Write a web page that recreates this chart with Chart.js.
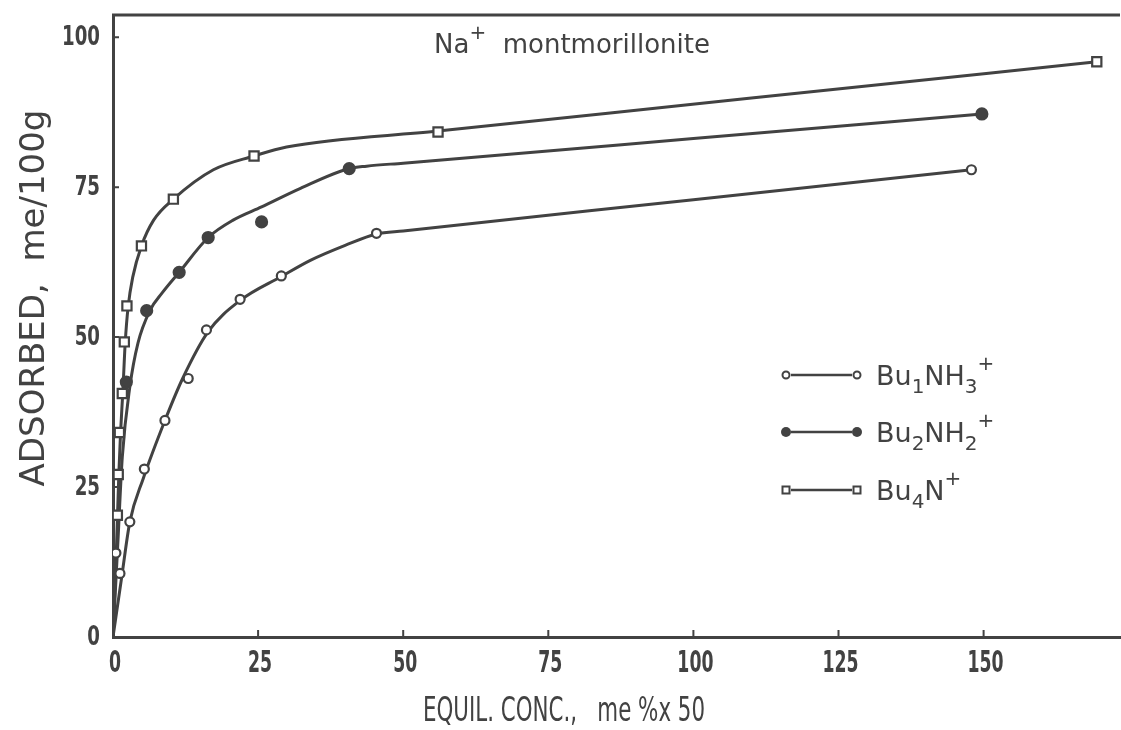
<!DOCTYPE html>
<html>
<head>
<meta charset="utf-8">
<script src="https://cdn.jsdelivr.net/npm/chart.js@4/dist/chart.umd.min.js"></script>
<style>
  html, body { margin: 0; padding: 0; background: #fff; }
  #chart { display: block; }
</style>
</head>
<body>
<canvas id="chart" width="1121" height="730"></canvas>
<script>
// measured points (me%x50 , me/100g)
var bu1_x = [0.5, 1.2, 2.9, 5.4, 8.95, 12.96, 16.1, 21.9, 29.0, 45.4, 147.9];
var bu1_y = [14.0, 10.6, 19.2, 28.0, 36.1, 43.1, 51.2, 56.3, 60.2, 67.3, 77.9];

var bu2_x = [2.3, 5.8, 11.4, 16.4, 25.6, 40.7, 149.7];
var bu2_y = [42.5, 54.4, 60.8, 66.6, 69.2, 78.1, 87.2];

var bu4_x = [0.75, 0.9, 1.1, 1.6, 1.95, 2.4, 4.9, 10.4, 24.3, 56.0, 169.5];
var bu4_y = [20.3, 27.1, 34.1, 40.6, 49.2, 55.2, 65.2, 73.0, 80.2, 84.2, 95.9];

// hand drawn fitted curves
var bu1_curve_x = [0, 1.5, 2.9, 5.2, 8.95, 12.0, 16.4, 21.9, 29.0, 34.0, 40.0, 45.4, 50.0, 100.0, 147.9];
var bu1_curve_y = [0, 10.0, 19.2, 26.4, 36.1, 43.1, 50.9, 56.1, 60.1, 62.8, 65.3, 67.2, 67.7, 72.9, 77.9];

var bu2_curve_x = [0, 0.8, 1.6, 2.9, 4.3, 6.4, 8.5, 11.4, 16.4, 20.7, 25.6, 32.3, 40.7, 43.7, 50.0, 100.0, 149.7];
var bu2_curve_y = [0, 15.0, 30.0, 41.7, 49.0, 54.5, 57.4, 60.8, 66.6, 69.5, 71.7, 74.8, 78.1, 78.5, 79.0, 83.1, 87.2];

var bu4_curve_x = [0, 0.6, 1.0, 1.3, 1.7, 2.1, 2.6, 3.4, 4.9, 7.0, 10.4, 17.3, 24.3, 29.9, 56.0, 110.0, 169.5];
var bu4_curve_y = [0, 15.0, 27.0, 34.0, 41.0, 49.0, 55.0, 60.0, 65.2, 69.5, 73.0, 77.9, 80.2, 81.7, 84.35, 89.85, 95.9];

var x_ticks = [0, 25, 50, 75, 100, 125, 150];
var y_ticks = [0, 25, 50, 75, 100];

var ink = '#424242';

function to_points(xs, ys) {
  var pts = [];
  for (let i = 0; i < xs.length; i++) {
    pts.push({x: xs[i], y: ys[i]});
  }
  return pts
}

function curve_set(xs, ys) {
  return {
    type: 'line',
    data: to_points(xs, ys),
    showLine: true,
    borderColor: ink,
    borderWidth: 3,
    pointRadius: 0,
    cubicInterpolationMode: 'monotone',
    fill: false,
    order: 2
  }
}

function marker_set(xs, ys, style, radius, bg) {
  return {
    type: 'scatter',
    data: to_points(xs, ys),
    showLine: false,
    pointStyle: style,
    pointRadius: radius,
    pointBorderWidth: 2.2,
    pointBackgroundColor: bg,
    pointBorderColor: ink,
    order: 1
  }
}

// text with sub/superscripts: parts = [[text, 'n'|'sub'|'sup'], ...]
function draw_rich(ctx, x, y, parts, size) {
  var cx = x;
  for (let i = 0; i < parts.length; i++) {
    var txt = parts[i][0];
    var kind = parts[i][1];
    var fs = kind == 'n' ? size : Math.round(size * 0.75);
    var dy = 0;
    if (kind == 'sub') dy = size * 0.3;
    if (kind == 'sup') dy = -size * 0.55;
    ctx.font = fs + 'px "DejaVu Sans"';
    ctx.fillText(txt, cx, y + dy);
    cx += ctx.measureText(txt).width;
  }
}

// horizontally squeezed text, the scan uses a tall narrow face
function squeezed(ctx, txt, x, y, sx) {
  ctx.save();
  ctx.translate(x, y);
  ctx.scale(sx, 1);
  ctx.fillText(txt, 0, 0);
  ctx.restore();
}

var extras = {
  id: 'extras',
  afterDraw: function(chart) {
    var ctx = chart.ctx;
    var area = chart.chartArea;
    var xs = chart.scales.x;
    var ys = chart.scales.y;
    ctx.save();
    ctx.strokeStyle = ink;
    ctx.fillStyle = ink;

    // top frame line
    ctx.lineWidth = 3;
    ctx.beginPath();
    ctx.moveTo(area.left - 1, area.top);
    ctx.lineTo(area.right, area.top);
    ctx.stroke();

    // small inside tick marks
    ctx.lineWidth = 2;
    ctx.beginPath();
    x_ticks.forEach(function(v) {
      if (v == 0) return;
      var px = xs.getPixelForValue(v);
      ctx.moveTo(px, area.bottom);
      ctx.lineTo(px, area.bottom - 7);
    });
    y_ticks.forEach(function(v) {
      if (v == 0) return;
      var py = ys.getPixelForValue(v);
      ctx.moveTo(area.left, py);
      ctx.lineTo(area.left + 6, py);
    });
    ctx.stroke();

    // tick labels
    ctx.font = 'bold 31px "DejaVu Sans Condensed"';
    ctx.textAlign = 'center';
    ctx.textBaseline = 'top';
    x_ticks.forEach(function(v) {
      squeezed(ctx, String(v), xs.getPixelForValue(v) + 2, area.bottom + 11, 0.62);
    });
    ctx.font = 'bold 27px "DejaVu Sans Condensed"';
    ctx.textAlign = 'right';
    ctx.textBaseline = 'middle';
    y_ticks.forEach(function(v) {
      squeezed(ctx, String(v), area.left - 13, ys.getPixelForValue(v) + 1, 0.75);
    });

    // axis titles
    ctx.textBaseline = 'middle';
    ctx.textAlign = 'center';
    ctx.font = '33px "DejaVu Sans Condensed"';
    squeezed(ctx, 'EQUIL. CONC.,   me %x 50', 564, 712, 0.72);

    ctx.save();
    ctx.translate(35, 298);
    ctx.rotate(-Math.PI / 2);
    ctx.font = '34px "DejaVu Sans"';
    ctx.fillText('ADSORBED,  me/100g', 0, 0);
    ctx.restore();

    // plot title
    ctx.textAlign = 'left';
    ctx.textBaseline = 'alphabetic';
    draw_rich(ctx, 434, 53, [['Na', 'n'], ['+', 'sup'], ['  montmorillonite', 'n']], 26);

    // legend
    var rows = [
      {y: 375, style: 'open', label: [['Bu', 'n'], ['1', 'sub'], ['NH', 'n'], ['3', 'sub'], ['+', 'sup']]},
      {y: 432, style: 'filled', label: [['Bu', 'n'], ['2', 'sub'], ['NH', 'n'], ['2', 'sub'], ['+', 'sup']]},
      {y: 490, style: 'square', label: [['Bu', 'n'], ['4', 'sub'], ['N', 'n'], ['+', 'sup']]}
    ];
    rows.forEach(function(r) {
      ctx.lineWidth = 2.5;
      ctx.beginPath();
      ctx.moveTo(791, r.y);
      ctx.lineTo(852, r.y);
      ctx.stroke();
      [786, 857].forEach(function(mx) {
        ctx.beginPath();
        if (r.style == 'square') {
          ctx.rect(mx - 3.5, r.y - 3.5, 7, 7);
        } else {
          ctx.arc(mx, r.y, r.style == 'filled' ? 5 : 3.5, 0, Math.PI * 2);
        }
        if (r.style == 'filled') {
          ctx.fill();
        } else {
          ctx.fillStyle = '#fff';
          ctx.fill();
          ctx.fillStyle = ink;
          ctx.lineWidth = 2;
          ctx.stroke();
        }
      });
      draw_rich(ctx, 876, r.y + 10, r.label, 27);
    });

    ctx.restore();
  }
};

function create_chart() {
  var config = {
    type: 'scatter',
    data: {
      datasets: [
        curve_set(bu1_curve_x, bu1_curve_y),
        curve_set(bu2_curve_x, bu2_curve_y),
        curve_set(bu4_curve_x, bu4_curve_y),
        marker_set(bu1_x, bu1_y, 'circle', 4.5, '#fff'),
        marker_set(bu2_x, bu2_y, 'circle', 5.5, ink),
        marker_set(bu4_x, bu4_y, 'rect', 6.5, '#fff')
      ]
    },
    options: {
      responsive: false,
      animation: false,
      devicePixelRatio: 1,
      layout: { autoPadding: false, padding: { top: 15, right: 1, left: 0, bottom: 0 } },
      plugins: {
        legend: { display: false },
        tooltip: { enabled: false },
        title: { display: false }
      },
      scales: {
        x: {
          type: 'linear',
          min: 0,
          max: 173.5,
          afterFit: function(scale) {
            scale.height = 93;
            scale.paddingRight = 0;
            scale.paddingLeft = 0;
          },
          afterBuildTicks: function(scale) {
            scale.ticks = x_ticks.map(function(v) { return {value: v}; });
          },
          grid: { display: false, drawTicks: false },
          border: { display: true, color: ink, width: 3 },
          ticks: { display: false }
        },
        y: {
          type: 'linear',
          min: 0,
          max: 103.7,
          afterFit: function(scale) {
            scale.width = 113;
            scale.paddingTop = 0;
            scale.paddingBottom = 0;
          },
          afterBuildTicks: function(scale) {
            scale.ticks = y_ticks.map(function(v) { return {value: v}; });
          },
          grid: { display: false, drawTicks: false },
          border: { display: true, color: ink, width: 3 },
          ticks: { display: false }
        }
      }
    },
    plugins: [extras]
  };
  return new Chart(document.getElementById('chart'), config);
}

create_chart();
</script>
</body>
</html>
